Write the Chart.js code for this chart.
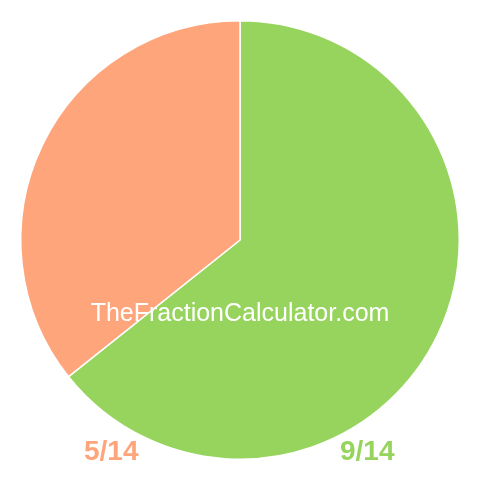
<!DOCTYPE html>
<html><head><meta charset="utf-8">
<script src="https://cdn.jsdelivr.net/npm/chart.js@4"></script>
<style>html,body{margin:0;padding:0;background:#fff;}canvas{display:block;}</style>
</head><body>
<canvas id="c" width="480" height="480"></canvas>
<script>
const categories = ["9/14", "5/14"];
const values = [9, 5];
const colors = ["#97D45E", "#FFA57C"];
const watermark = "TheFractionCalculator.com";

const labelPlugin = {
  id: 'labels',
  afterDraw(chart) {
    const ctx = chart.ctx;
    ctx.save();
    ctx.font = '25px "Liberation Sans", Arial, sans-serif';
    ctx.fillStyle = '#ffffff';
    ctx.textAlign = 'center';
    ctx.textBaseline = 'alphabetic';
    ctx.fillText(watermark, 240, 321);
    ctx.font = 'bold 28px "Liberation Sans", Arial, sans-serif';
    ctx.textAlign = 'left';
    ctx.fillStyle = colors[1];
    ctx.fillText(categories[1], 84, 460);
    ctx.fillStyle = colors[0];
    ctx.fillText(categories[0], 340, 460);
    ctx.restore();
  }
};

new Chart(document.getElementById('c'), {
  type: 'pie',
  data: {
    labels: categories,
    datasets: [{
      data: values,
      backgroundColor: colors,
      borderColor: '#ffffff',
      borderWidth: 1.5
    }]
  },
  options: {
    responsive: false,
    animation: false,
    layout: { padding: 20 },
    plugins: { legend: { display: false }, tooltip: { enabled: false } }
  },
  plugins: [labelPlugin]
});
</script>
</body></html>
